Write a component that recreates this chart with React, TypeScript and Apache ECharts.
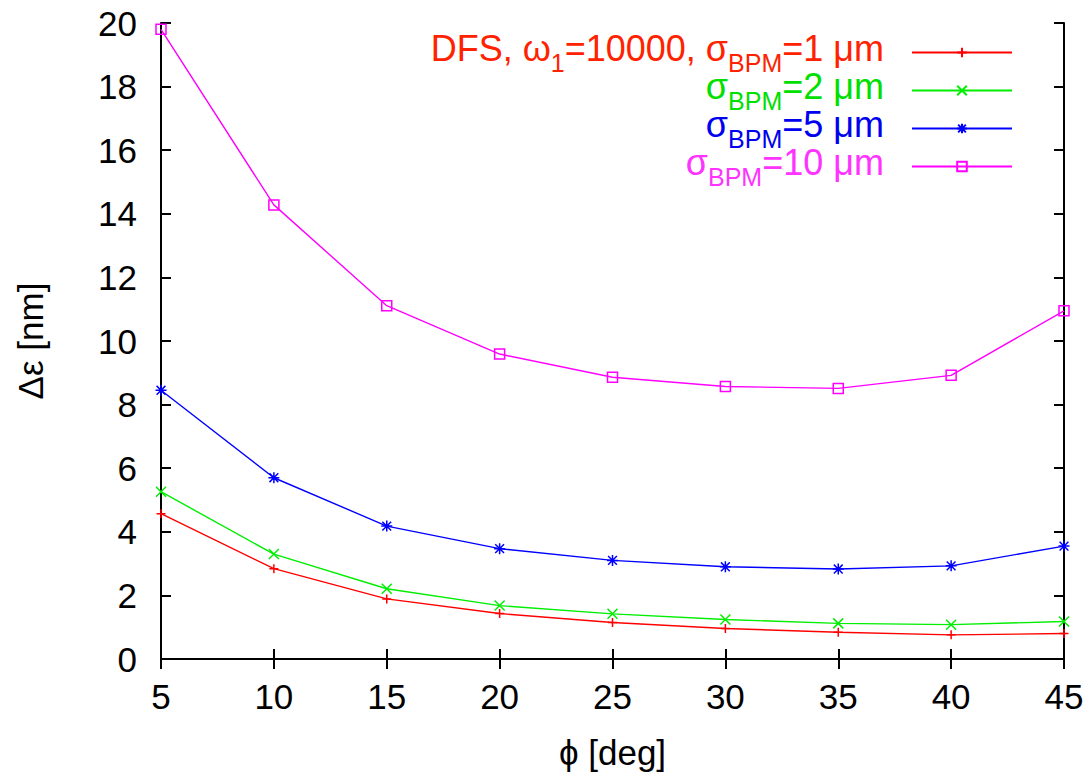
import React, { useEffect, useRef } from "react";
import * as echarts from "echarts";

const phi = [5, 10, 15, 20, 25, 30, 35, 40, 45];
const sigma1 = [4.57, 2.84, 1.89, 1.43, 1.15, 0.96, 0.84, 0.76, 0.8];
const sigma2 = [5.26, 3.3, 2.21, 1.68, 1.42, 1.24, 1.12, 1.08, 1.18];
const sigma5 = [8.45, 5.7, 4.18, 3.47, 3.1, 2.9, 2.83, 2.93, 3.55];
const sigma10 = [19.8, 14.28, 11.11, 9.59, 8.86, 8.57, 8.51, 8.92, 10.95];

const seriesNames = ["s1", "s2", "s5", "s10"];
const legendLabels: Record<string, string> = {
  s1: "{a|DFS, ω}{s|1}{a|=10000, σ}{s|BPM}{e|=1 μm}",
  s2: "{a|σ}{s|BPM}{e|=2 μm}",
  s5: "{a|σ}{s|BPM}{e|=5 μm}",
  s10: "{a|σ}{s|BPM}{e|=10 μm}",
};
const colors = ["#ff0000", "#00ee00", "#0000ff", "#ff00ff"];
const textColors = ["#ff2200", "#00e000", "#0000f0", "#ff33ff"];

const FONT = "'Liberation Sans', Arial, Helvetica, sans-serif";

const symPlus = "path://M0,5L10,5M5,0L5,10";
const symCross = "path://M0,0L10,10M10,0L0,10";
const symStar = "path://M0,5L10,5M5,0L5,10M1,1L9,9M9,1L1,9";
const symSquare = "path://M0,0L10,0L10,10L0,10Z";

export default function App() {
  const ref = useRef<HTMLDivElement>(null);
  useEffect(() => {
    document.body.style.margin = "0";
    const chart = echarts.init(ref.current!, null, { renderer: "svg" });
    const values = [sigma1, sigma2, sigma5, sigma10];
    const symbols = [symPlus, symCross, symStar, symSquare];
    const sizes = [9, 10, 11, 10];
    const series = values.map((vals, i) => ({
      name: seriesNames[i],
      type: "line",
      data: phi.map((p, j) => [p, vals[j]]),
      symbol: symbols[i],
      symbolSize: sizes[i],
      showSymbol: true,
      lineStyle: { color: colors[i], width: 1.4 },
      itemStyle: {
        color: i === 3 ? "rgba(0,0,0,0)" : colors[i],
        borderColor: colors[i],
        borderWidth: 1.5,
      },
      xAxisIndex: 0,
      yAxisIndex: 0,
    }));
    const tickStyle = { fontFamily: FONT, fontSize: 35, color: "#000" };
    const nameStyle = { fontFamily: FONT, fontSize: 35, color: "#000" };
    const rich = {
      a: { fontFamily: FONT, fontSize: 36, verticalAlign: "top" },
      e: { fontFamily: FONT, fontSize: 36, verticalAlign: "top", padding: [0, 23, 0, 0] },
      s: { fontFamily: FONT, fontSize: 25, verticalAlign: "top", padding: [20, 0, 0, 0] },
    };
    const frameLine = { show: true, lineStyle: { color: "#000", width: 2 } };
    const frameTick = { show: true, inside: true, length: 10, lineStyle: { color: "#000", width: 2 } };
    chart.setOption({
      animation: false,
      grid: { left: 161, right: 28, top: 23, bottom: 113, containLabel: false },
      legend: {
        orient: "vertical",
        align: "right",
        right: 74,
        top: 25,
        itemWidth: 100,
        itemHeight: 12,
        itemGap: -7,
        data: seriesNames.map((n, i) => ({ name: n, textStyle: { color: textColors[i] } })),
        formatter: (n: string) => legendLabels[n],
        textStyle: { fontFamily: FONT, fontSize: 36, rich },
      },
      xAxis: [
        {
          type: "value",
          min: 5,
          max: 45,
          interval: 5,
          position: "bottom",
          name: "ϕ [deg]",
          nameLocation: "middle",
          nameGap: 76,
          nameTextStyle: nameStyle,
          axisLine: frameLine,
          axisTick: frameTick,
          axisLabel: { ...tickStyle, margin: 20 },
          splitLine: { show: false },
        },
        {
          type: "value",
          min: 5,
          max: 45,
          interval: 5,
          position: "top",
          axisLine: frameLine,
          axisTick: frameTick,
          axisLabel: { show: false },
          splitLine: { show: false },
        },
      ],
      yAxis: [
        {
          type: "value",
          min: 0,
          max: 20,
          interval: 2,
          position: "left",
          name: "Δε [nm]",
          nameLocation: "middle",
          nameGap: 113,
          nameTextStyle: nameStyle,
          axisLine: frameLine,
          axisTick: frameTick,
          axisLabel: { ...tickStyle, margin: 24 },
          splitLine: { show: false },
        },
        {
          type: "value",
          min: 0,
          max: 20,
          interval: 2,
          position: "right",
          axisLine: frameLine,
          axisTick: frameTick,
          axisLabel: { show: false },
          splitLine: { show: false },
        },
      ],
      series,
    });
    return () => chart.dispose();
  }, []);
  return <div ref={ref} style={{ width: 1092, height: 775, background: "#fff" }} />;
}
